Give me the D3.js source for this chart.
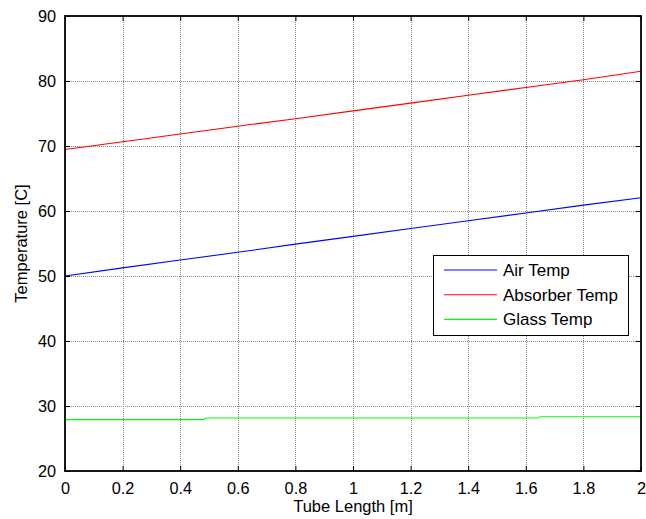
<!DOCTYPE html>
<html>
<head>
<meta charset="utf-8">
<script src="https://cdn.jsdelivr.net/npm/d3@7"></script>
<style>
  html, body { margin: 0; padding: 0; background: #fff; }
  svg { display: block; font-family: "Liberation Sans", Arial, sans-serif; }
</style>
</head>
<body>
<svg id="chart" width="646" height="519"></svg>
<script>
// Temperature profiles along the tube
const positions = [0, 0.2, 0.4, 0.6, 0.8, 1.0, 1.2, 1.4, 1.6, 1.8, 2.0];
const airTemp = [50.0, 51.25, 52.45, 53.65, 54.9, 56.1, 57.3, 58.5, 59.7, 60.9, 62.05];
const absorberTemp = [69.45, 70.65, 71.85, 73.05, 74.2, 75.4, 76.6, 77.8, 79.0, 80.2, 81.5];
const glassPositions = [0, 0.48, 0.49, 1.64, 1.65, 2.0];
const glassTemp = [27.9, 27.9, 28.15, 28.15, 28.35, 28.35];

const seriesNames = ["Air Temp", "Absorber Temp", "Glass Temp"];
const seriesColors = ["#0000ff", "#ff0000", "#00ff00"];

const xTicks = [0, 0.2, 0.4, 0.6, 0.8, 1, 1.2, 1.4, 1.6, 1.8, 2];
const yTicks = [20, 30, 40, 50, 60, 70, 80, 90];
const xTitle = "Tube Length [m]";
const yTitle = "Temperature [C]";

const margin = { left: 65, right: 5, top: 16, bottom: 48 };
const W = 646, H = 519;
const svg = d3.select("#chart");

const x = d3.scaleLinear().domain([0, 2]).range([margin.left, W - margin.right]);
const y = d3.scaleLinear().domain([20, 90]).range([H - margin.bottom, margin.top]);

const x0 = x.range()[0], x1 = x.range()[1];
const y0 = y.range()[0], y1 = y.range()[1];

// dotted grid
const grid = svg.append("g").attr("stroke", "#8a8a8a").attr("stroke-width", 1)
  .attr("stroke-dasharray", "1,1").attr("shape-rendering", "crispEdges");
xTicks.slice(1, -1).forEach(t => {
  grid.append("line").attr("x1", Math.round(x(t)) + 0.5).attr("x2", Math.round(x(t)) + 0.5)
    .attr("y1", y1).attr("y2", y0);
});
yTicks.slice(1, -1).forEach(t => {
  grid.append("line").attr("y1", Math.round(y(t)) + 0.5).attr("y2", Math.round(y(t)) + 0.5)
    .attr("x1", x0).attr("x2", x1);
});

// data lines
const lineGen = d3.line().x(d => x(d[0])).y(d => y(d[1]));
const seriesData = [
  d3.zip(positions, airTemp),
  d3.zip(positions, absorberTemp),
  d3.zip(glassPositions, glassTemp)
];
seriesData.forEach((data, i) => {
  svg.append("path").datum(data).attr("d", lineGen)
    .attr("fill", "none").attr("stroke", seriesColors[i]).attr("stroke-width", 1.1);
});

// axes: ticks pointing inward, drawn on all four sides
const fmt = d => d3.format("~g")(d);
const bottomAxis = svg.append("g").attr("transform", `translate(0,${y0})`)
  .call(d3.axisBottom(x).tickValues(xTicks).tickFormat(fmt).tickSizeInner(-5).tickSizeOuter(0).tickPadding(11));
const topAxis = svg.append("g").attr("transform", `translate(0,${y1})`)
  .call(d3.axisTop(x).tickValues(xTicks).tickFormat("").tickSizeInner(-5).tickSizeOuter(0));
const leftAxis = svg.append("g").attr("transform", `translate(${x0},0)`)
  .call(d3.axisLeft(y).tickValues(yTicks).tickFormat(fmt).tickSizeInner(-5).tickSizeOuter(0).tickPadding(9));
const rightAxis = svg.append("g").attr("transform", `translate(${x1},0)`)
  .call(d3.axisRight(y).tickValues(yTicks).tickFormat("").tickSizeInner(-5).tickSizeOuter(0));

[bottomAxis, topAxis, leftAxis, rightAxis].forEach(g => {
  g.select(".domain").remove();
  g.selectAll(".tick line").attr("stroke", "#000");
  g.selectAll("text").attr("fill", "#000").attr("font-size", 16.3)
    .attr("font-family", "Liberation Sans, Arial, sans-serif");
});

// box around plot
svg.append("rect").attr("x", x0).attr("y", y1).attr("width", x1 - x0).attr("height", y0 - y1)
  .attr("fill", "none").attr("stroke", "#000").attr("stroke-width", 1.8);

// axis titles
svg.append("text").attr("x", (x0 + x1) / 2).attr("y", 512).attr("text-anchor", "middle")
  .attr("font-size", 16.5).attr("fill", "#000").text(xTitle);
svg.append("text").attr("transform", `translate(27,${(y0 + y1) / 2}) rotate(-90)`)
  .attr("text-anchor", "middle").attr("font-size", 16.5).attr("fill", "#000").text(yTitle);

// legend
const legend = svg.append("g");
legend.append("rect").attr("x", 433.5).attr("y", 255.5).attr("width", 195).attr("height", 80)
  .attr("fill", "#fff").attr("stroke", "#000").attr("stroke-width", 1);
seriesNames.forEach((name, i) => {
  const ly = 270 + i * 24.7;
  legend.append("line").attr("x1", 444).attr("x2", 497).attr("y1", ly).attr("y2", ly)
    .attr("stroke", seriesColors[i]).attr("stroke-width", 1.1);
  legend.append("text").attr("x", 503).attr("y", ly + 6).attr("font-size", 17)
    .attr("fill", "#000").text(name);
});
</script>
</body>
</html>
